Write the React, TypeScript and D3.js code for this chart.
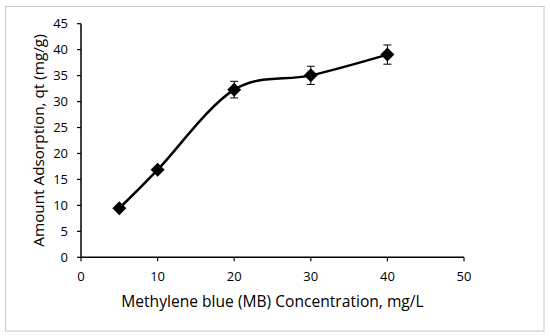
import React from "react";
import * as d3 from "d3";

const concentrations = [5, 10, 20, 30, 40];
const adsorption = [9.45, 16.85, 32.3, 35.05, 39.05];
const errors = [0.4, 0.4, 1.6, 1.75, 1.85];
const xTicks = [0, 10, 20, 30, 40, 50];
const yTicks = [0, 5, 10, 15, 20, 25, 30, 35, 40, 45];
const xTitle = "Methylene blue (MB) Concentration, mg/L";
const yTitle = "Amount Adsorption, qt (mg/g)";

const W = 550;
const H = 336;
const font = "'Open Sans', sans-serif";

export default function App() {
  const x = d3.scaleLinear().domain([0, 50]).range([81, 464]);
  const y = d3.scaleLinear().domain([0, 45]).range([257.3, 23.7]);
  const pts: [number, number][] = concentrations.map((c, i) => [x(c), y(adsorption[i])]);
  const line = d3.line().curve(d3.curveCardinal.tension(0))(pts) || "";

  return (
    <svg width={W} height={H} style={{ position: "absolute", left: 0, top: 0 }}>
      <rect x={0} y={0} width={W} height={H} fill="#fff" />
      <rect x={5.5} y={6.5} width={538.5} height={324.5} fill="none" stroke="#c8c8c8" strokeWidth={1} />
      {/* axes */}
      <line x1={x(0)} x2={x(50)} y1={y(0)} y2={y(0)} stroke="#000" strokeWidth={1.5} />
      <line x1={x(0)} x2={x(0)} y1={y(0)} y2={y(45)} stroke="#000" strokeWidth={1.5} />
      {yTicks.map((t) => (
        <g key={"y" + t}>
          <line x1={x(0) - 4} x2={x(0)} y1={y(t)} y2={y(t)} stroke="#000" strokeWidth={1.2} />
          <text x={68} y={y(t)} dy="0.35em" textAnchor="end" fontFamily={font} fontSize={13} fill="#000">
            {t}
          </text>
        </g>
      ))}
      {xTicks.map((t) => (
        <g key={"x" + t}>
          <line x1={x(t)} x2={x(t)} y1={y(0)} y2={y(0) + 4} stroke="#000" strokeWidth={1.2} />
          <text x={x(t)} y={276.7} dy="0.35em" textAnchor="middle" fontFamily={font} fontSize={13} fill="#000">
            {t}
          </text>
        </g>
      ))}
      <text x={(x(0) + x(50)) / 2} y={301.5} dy="0.35em" textAnchor="middle" fontFamily={font} fontSize={15.6} fill="#000">
        {xTitle}
      </text>
      <text
        transform={`translate(38.5,${(y(0) + y(45)) / 2}) rotate(-90)`}
        dy="0.35em"
        textAnchor="middle"
        fontFamily={font}
        fontSize={15.3}
        fill="#000"
      >
        {yTitle}
      </text>
      <path d={line} fill="none" stroke="#000" strokeWidth={2.5} />
      {concentrations.map((c, i) => {
        const cx = x(c);
        const top = y(adsorption[i] + errors[i]);
        const bot = y(adsorption[i] - errors[i]);
        return (
          <g key={"e" + i} stroke="#000" strokeWidth={1}>
            <line x1={cx} x2={cx} y1={top} y2={bot} />
            <line x1={cx - 4} x2={cx + 4} y1={top} y2={top} />
            <line x1={cx - 4} x2={cx + 4} y1={bot} y2={bot} />
          </g>
        );
      })}
      {pts.map(([px, py], i) => (
        <path key={"m" + i} d={`M${px},${py - 7}L${px + 7},${py}L${px},${py + 7}L${px - 7},${py}Z`} fill="#000" />
      ))}
    </svg>
  );
}
